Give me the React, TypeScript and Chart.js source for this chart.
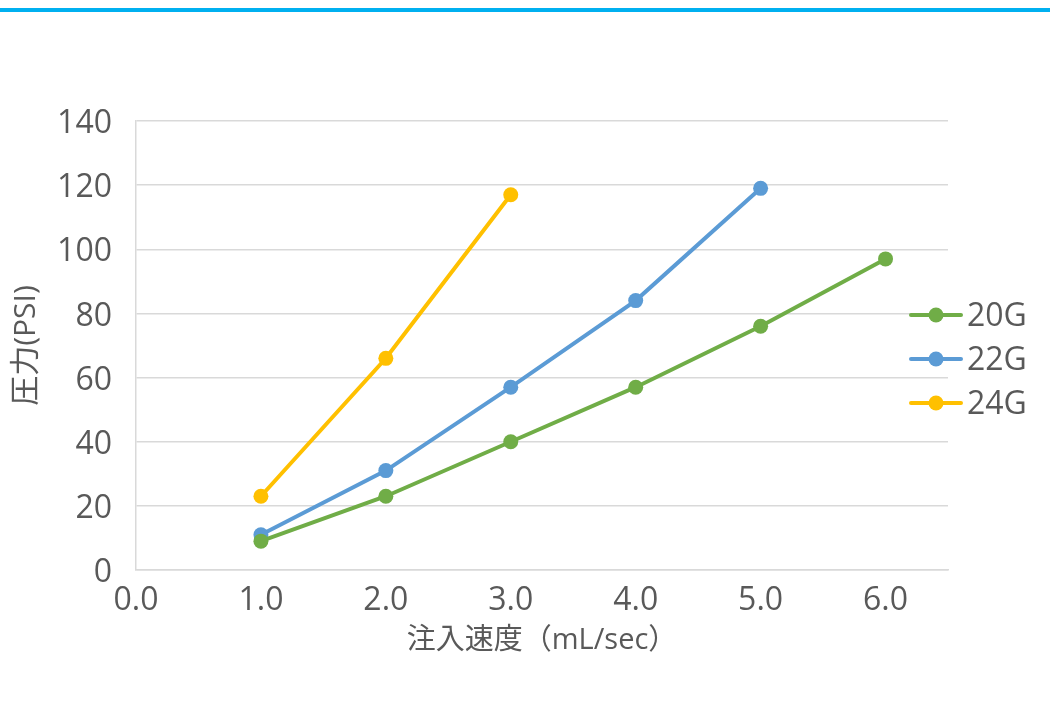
import React, { useEffect, useRef } from 'react';
import { Chart, registerables } from 'chart.js';

Chart.register(...registerables);

const seriesNames = ['20G', '22G', '24G'];
const injectionRates = [1.0, 2.0, 3.0, 4.0, 5.0, 6.0];
const pressure20G = [9, 23, 40, 57, 76, 97];
const pressure22G = [11, 31, 57, 84, 119];
const pressure24G = [23, 66, 117];
const seriesColors = ['#70AD47', '#5B9BD5', '#FFC000'];
const xAxisTitle = '注入速度（mL/sec）';
const yAxisTitle = '圧力(PSI)';

const FONT = '"Open Sans", "Noto Sans CJK JP", sans-serif';
const TEXT = '#595959';
const GRID = '#d9d9d9';

const legendPlugin = {
  id: 'sideLegend',
  afterDraw(chart: any) {
    const ctx = chart.ctx;
    const rows = [315, 359, 403];
    ctx.save();
    chart.data.datasets.forEach((ds: any, i: number) => {
      const y = rows[i];
      ctx.strokeStyle = ds.borderColor;
      ctx.lineWidth = 4;
      ctx.lineCap = 'round';
      ctx.beginPath();
      ctx.moveTo(911, y);
      ctx.lineTo(961, y);
      ctx.stroke();
      ctx.fillStyle = ds.backgroundColor;
      ctx.beginPath();
      ctx.arc(936, y, 7.5, 0, Math.PI * 2);
      ctx.fill();
      ctx.fillStyle = TEXT;
      ctx.font = `32px ${FONT}`;
      ctx.textBaseline = 'middle';
      ctx.textAlign = 'left';
      ctx.fillText(ds.label, 967, y + 2);
    });
    ctx.restore();
  },
};

export default function App() {
  const canvasRef = useRef<HTMLCanvasElement>(null);

  useEffect(() => {
    document.body.style.margin = '0';
    const seriesValues = [pressure20G, pressure22G, pressure24G];
    const datasets = seriesNames.map((name, i) => ({
      label: name,
      data: seriesValues[i].map((v, j) => ({ x: injectionRates[j], y: v })),
      borderColor: seriesColors[i],
      backgroundColor: seriesColors[i],
      borderWidth: 4,
      pointRadius: 7.5,
      pointHoverRadius: 7.5,
      pointBorderWidth: 0,
      tension: 0,
    }));
    const chart = new Chart(canvasRef.current!, {
      type: 'line',
      data: { datasets },
      plugins: [legendPlugin],
      options: {
        responsive: false,
        animation: false,
        layout: { padding: { left: 0, top: 121, right: 102, bottom: 0 } },
        plugins: { legend: { display: false }, tooltip: { enabled: false } },
        scales: {
          x: {
            type: 'linear',
            min: 0,
            max: 6.5,
            ticks: {
              stepSize: 1,
              includeBounds: false,
              color: TEXT,
              font: { family: FONT, size: 32 },
              padding: 12,
              maxRotation: 0,
              autoSkip: false,
              callback: (v: any) => Number(v).toFixed(1),
            },
            grid: { display: false, drawTicks: false },
            border: { display: true, color: GRID, width: 1.5 },
            title: {
              display: true,
              text: xAxisTitle,
              color: TEXT,
              font: { family: FONT, size: 29 },
              padding: 46,
            },
            afterFit: (scale: any) => {
              scale.height = 134;
            },
          },
          y: {
            min: 0,
            max: 140,
            ticks: {
              stepSize: 20,
              color: TEXT,
              font: { family: FONT, size: 32 },
              padding: 24,
              labelOffset: 3,
            },
            grid: { color: GRID, lineWidth: 1.5, drawTicks: false },
            border: { display: true, color: GRID, width: 1.5 },
            title: {
              display: true,
              text: yAxisTitle,
              color: TEXT,
              font: { family: FONT, size: 30 },
              padding: 8,
            },
            afterFit: (scale: any) => {
              scale.width = 136;
            },
          },
        },
      },
    });
    return () => chart.destroy();
  }, []);

  return (
    <div style={{ position: 'relative', width: 1050, height: 704, background: '#fff' }}>
      <div style={{ position: 'absolute', top: 8, left: 0, width: 1050, height: 4, background: '#00B0F0' }} />
      <canvas ref={canvasRef} width={1050} height={704} style={{ display: 'block' }} />
    </div>
  );
}
